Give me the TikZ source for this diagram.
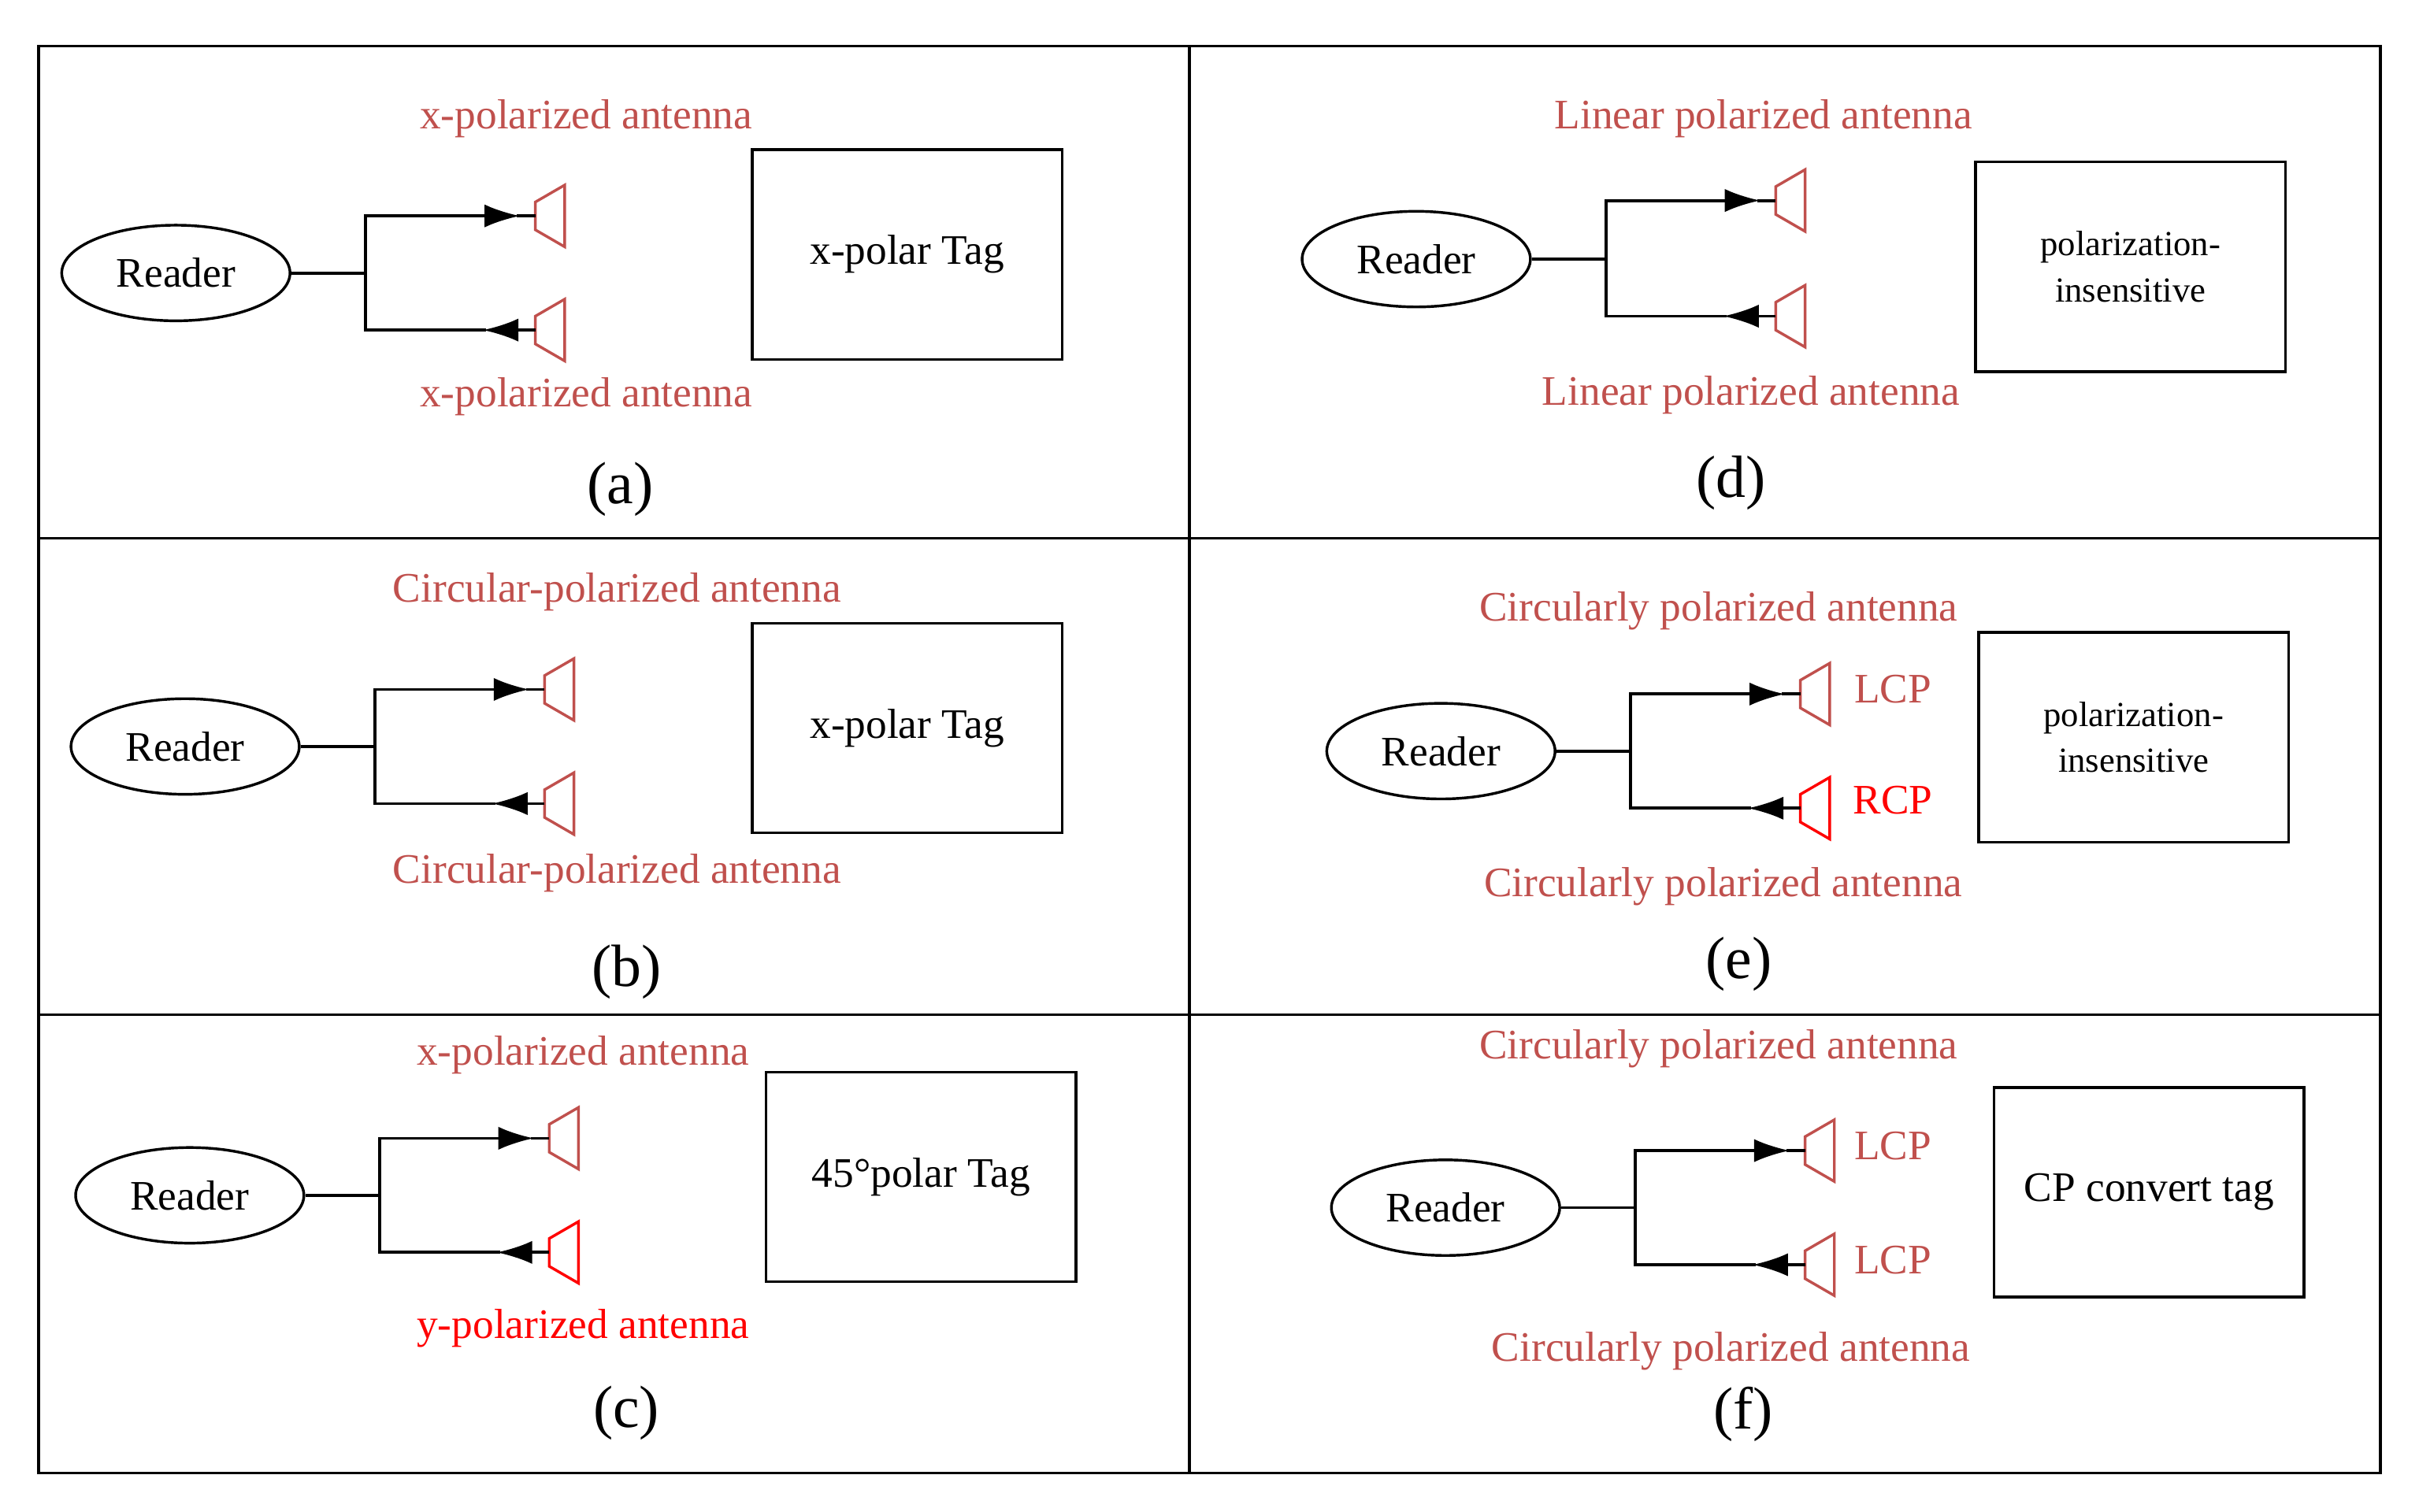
\documentclass[tikz,border=0pt]{standalone}
\usepackage{fontspec}
\setmainfont{Liberation Serif}
\usetikzlibrary{arrows.meta,calc,shapes.geometric}
\definecolor{antred}{RGB}{192,80,77}
\definecolor{hotred}{RGB}{255,0,0}
% horn antenna: colour, name, x, y (narrow end)
\newcommand{\horn}[4]{%
  \coordinate (#2) at (#3,#4);
  \draw[#1, line width=1pt] (#3,#4-9) -- (#3+19,#4-20) -- (#3+19,#4+20) -- (#3,#4+9) -- cycle;}
\begin{document}
\begin{tikzpicture}[x=0.02cm, y=-0.02cm,
    reader/.style={ellipse, draw, line width=1pt, minimum width=2.96cm, minimum height=1.24cm, font=\fontsize{15.5}{18}\selectfont},
    tag/.style={rectangle, draw, line width=1pt, minimum width=4.02cm, minimum height=2.72cm, align=center, font=\fontsize{15.5}{18}\selectfont},
    small/.style={font=\fontsize{13}{17}\selectfont},
    ant/.style={font=\fontsize{15.5}{17}\selectfont, text=antred},
    antr/.style={ant, text=hotred},
    sub/.style={font=\fontsize{22}{24}\selectfont},
    feed/.style={line width=1.1pt},
    tx/.style={line width=1.1pt, -{Latex[length=0.46cm,width=0.3cm]}}
]
\useasboundingbox (0,0) rectangle (1568,980);

% frame
\draw[line width=1pt] (25,30) rectangle (1543,955);
\draw[line width=1pt] (771,30) -- (771,955);
\draw[line width=1pt] (25,349) -- (1543,349);
\draw[line width=1pt] (25,658) -- (1543,658);

% (a)
\node[reader] (ra) at (114,177) {Reader};
\coordinate (ja) at (237,177);
\horn{antred}{ta}{347}{140}
\horn{antred}{ba}{347}{214}
\draw[feed] (ra) -- (ja);
\draw[tx] (ja) |- ($(ta)+(-10,0)$);
\draw[feed] ($(ta)+(-12,0)$) -- (ta);
\draw[tx] (ba) -- ($(ba)+(-34,0)$);
\draw[feed] ($(ba)+(-32,0)$) -| (ja);
\node[tag] (taga) at (588,165) {x-polar Tag};
\node[ant] (la1) at (380,77) {x-polarized antenna};
\node[ant] (la2) at (380,257) {x-polarized antenna};
\node[sub] (capa) at (402,317) {(a)};

% (b)
\node[reader] (rb) at (120,484) {Reader};
\coordinate (jb) at (243,484);
\horn{antred}{tb}{353}{447}
\horn{antred}{bb}{353}{521}
\draw[feed] (rb) -- (jb);
\draw[tx] (jb) |- ($(tb)+(-10,0)$);
\draw[feed] ($(tb)+(-12,0)$) -- (tb);
\draw[tx] (bb) -- ($(bb)+(-34,0)$);
\draw[feed] ($(bb)+(-32,0)$) -| (jb);
\node[tag] (tagb) at (588,472) {x-polar Tag};
\node[ant] (lb1) at (400,384) {Circular-polarized antenna};
\node[ant] (lb2) at (400,566) {Circular-polarized antenna};
\node[sub] (capb) at (406,630) {(b)};

% (c)
\node[reader] (rc) at (123,775) {Reader};
\coordinate (jc) at (246,775);
\horn{antred}{tc}{356}{738}
\horn{hotred}{bc}{356}{812}
\draw[feed] (rc) -- (jc);
\draw[tx] (jc) |- ($(tc)+(-10,0)$);
\draw[feed] ($(tc)+(-12,0)$) -- (tc);
\draw[tx] (bc) -- ($(bc)+(-34,0)$);
\draw[feed] ($(bc)+(-32,0)$) -| (jc);
\node[tag] (tagc) at (597,763) {45\textdegree polar Tag};
\node[ant] (lc1) at (378,684) {x-polarized antenna};
\node[antr] (lc2) at (378,861) {y-polarized antenna};
\node[sub] (capc) at (406,916) {(c)};

% (d)
\node[reader] (rd) at (918,168) {Reader};
\coordinate (jd) at (1041,168);
\horn{antred}{td}{1151}{130}
\horn{antred}{bd}{1151}{205}
\draw[feed] (rd) -- (jd);
\draw[tx] (jd) |- ($(td)+(-10,0)$);
\draw[feed] ($(td)+(-12,0)$) -- (td);
\draw[tx] (bd) -- ($(bd)+(-34,0)$);
\draw[feed] ($(bd)+(-32,0)$) -| (jd);
\node[tag, small] (tagd) at (1381,173) {polarization-\\insensitive};
\node[ant] (ld1) at (1143,77) {Linear polarized antenna};
\node[ant] (ld2) at (1135,256) {Linear polarized antenna};
\node[sub] (capd) at (1122,313) {(d)};

% (e)
\node[reader] (re) at (934,487) {Reader};
\coordinate (je) at (1057,487);
\horn{antred}{te}{1167}{450}
\horn{hotred}{be}{1167}{524}
\draw[feed] (re) -- (je);
\draw[tx] (je) |- ($(te)+(-10,0)$);
\draw[feed] ($(te)+(-12,0)$) -- (te);
\draw[tx] (be) -- ($(be)+(-34,0)$);
\draw[feed] ($(be)+(-32,0)$) -| (je);
\node[ant] (lcpe) at (1227,447) {LCP};
\node[antr] (rcpe) at (1227,519) {RCP};
\node[tag, small] (tage) at (1383,478) {polarization-\\insensitive};
\node[ant] (le1) at (1114,396) {Circularly polarized antenna};
\node[ant] (le2) at (1117,575) {Circularly polarized antenna};
\node[sub] (cape) at (1127,625) {(e)};

% (f)
\node[reader] (rf) at (937,783) {Reader};
\coordinate (jf) at (1060,783);
\horn{antred}{tf}{1170}{746}
\horn{antred}{bf}{1170}{820}
\draw[feed] (rf) -- (jf);
\draw[tx] (jf) |- ($(tf)+(-10,0)$);
\draw[feed] ($(tf)+(-12,0)$) -- (tf);
\draw[tx] (bf) -- ($(bf)+(-34,0)$);
\draw[feed] ($(bf)+(-32,0)$) -| (jf);
\node[ant] (lcpf1) at (1227,743) {LCP};
\node[ant] (lcpf2) at (1227,817) {LCP};
\node[tag] (tagf) at (1393,773) {CP convert tag};
\node[ant] (lf1) at (1114,680) {Circularly polarized antenna};
\node[ant] (lf2) at (1122,876) {Circularly polarized antenna};
\node[sub] (capf) at (1130,917) {(f)};

\end{tikzpicture}
\end{document}
